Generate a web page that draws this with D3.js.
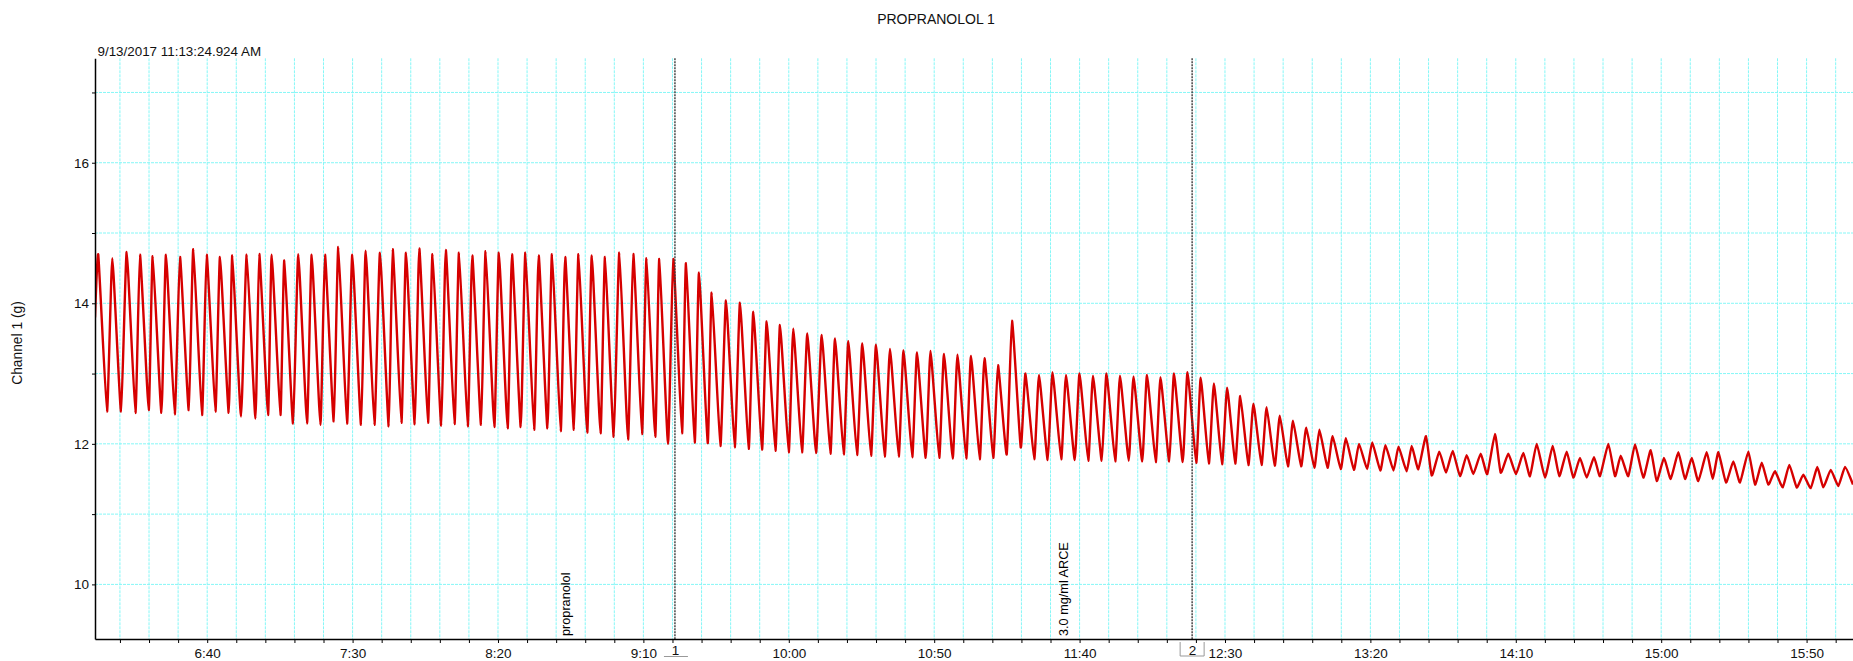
<!DOCTYPE html>
<html><head><meta charset="utf-8">
<script src="https://cdn.jsdelivr.net/npm/d3@7"></script>
<style>
html,body{margin:0;padding:0;background:#fff;}
svg{display:block;font-family:"Liberation Sans",Arial,sans-serif;}
</style></head><body>
<svg id="chart" width="1853" height="661"></svg>
<script>
// ---------- texts ----------
const title = "PROPRANOLOL 1";
const timestamp = "9/13/2017 11:13:24.924 AM";
const yAxisLabel = "Channel 1 (g)";

// ---------- axes ----------
const xDomain = [361.42, 965.96];          // seconds
const yDomain = [9.223, 17.486];           // g
const yTickValues = [10, 11, 12, 13, 14, 15, 16, 17];
const yTickLabels = ["10", "", "12", "", "14", "", "16", ""];
const xLabelTimes = [400, 450, 500, 550, 600, 650, 700, 750, 800, 850, 900, 950];
const xTickLabels = ["6:40", "7:30", "8:20", "9:10", "10:00", "10:50", "11:40", "12:30", "13:20", "14:10", "15:00", "15:50"];

// ---------- events ----------
const markerTimes = [560.85, 738.7];
const markerLabels = ["1", "2"];
const commentTimes = [523.5, 694.5];
const commentTexts = ["propranolol", "3.0 mg/ml ARCE"];

// ---------- trace: peaks and troughs ----------
const peakTimes = [
  362.55, 367.37, 372.32, 376.89, 381.26, 385.83, 390.65, 395.22, 399.83, 404.40, 408.63, 413.59, 417.92, 422.18, 426.52, 431.33, 435.94, 440.51, 445.09, 449.90, 454.51, 459.42, 463.79,
  468.37, 472.94, 477.48, 482.05, 486.59, 491.16, 495.74, 500.31, 504.82, 509.42, 514.00, 518.57, 523.11, 527.68, 532.26,
  536.80, 541.72, 546.53, 551.07, 555.47, 560.29, 564.65, 569.12, 573.49, 578.41, 583.22, 587.80, 592.40, 596.98, 601.55, 606.37, 611.32, 615.89, 620.47, 625.28, 629.99, 634.80,
  639.45, 644.09, 648.73, 653.37, 658.01, 662.66, 667.30, 671.94, 676.76, 681.40, 686.04, 690.68, 695.33, 699.97, 704.61, 709.25, 713.90, 718.54, 723.18, 727.82, 732.47, 737.11,
  741.65, 746.19, 750.73, 755.25, 759.77, 764.31, 768.85, 773.39, 777.93, 782.47, 787.01, 791.54, 796.08, 800.62, 805.16, 809.67,
  814.21, 819.13, 823.70, 828.31, 833.12, 837.94, 842.85, 847.43, 852.59, 857.19, 862.70, 867.51, 872.08, 876.90, 881.82, 886.08, 891.00, 896.40, 900.97, 905.89, 910.50, 915.66, 919.65, 924.81, 929.97, 934.58, 939.14, 944.06, 948.88, 953.69, 958.30, 963.22
];
const peakValues = [
  14.69, 14.64, 14.73, 14.69, 14.67, 14.69, 14.66, 14.77, 14.69, 14.66, 14.68, 14.69, 14.70, 14.69, 14.61, 14.70, 14.69, 14.69, 14.80, 14.69, 14.75, 14.72, 14.77,
  14.72, 14.78, 14.70, 14.76, 14.72, 14.68, 14.74, 14.72, 14.70, 14.72, 14.68, 14.70, 14.66, 14.70, 14.68,
  14.66, 14.72, 14.70, 14.64, 14.63, 14.63, 14.57, 14.44, 14.15, 14.04, 14.01, 13.88, 13.74, 13.69, 13.64, 13.57, 13.55, 13.50, 13.46, 13.43, 13.41, 13.35,
  13.33, 13.30, 13.32, 13.28, 13.27, 13.25, 13.22, 13.12, 13.75, 13.00, 12.98, 13.02, 12.98, 13.00, 12.97, 13.00, 12.97, 12.96, 12.98, 12.95, 13.00, 13.02,
  12.94, 12.86, 12.80, 12.68, 12.57, 12.52, 12.40, 12.33, 12.23, 12.20, 12.11, 12.08, 12.00, 12.02, 11.98, 11.96,
  11.97, 12.11, 11.89, 11.90, 11.84, 11.86, 12.14, 11.86, 11.87, 12.00, 11.97, 11.89, 11.80, 11.81, 12.00, 11.83, 11.99, 11.91, 11.80, 11.88, 11.80, 11.88, 11.88, 11.75, 11.89, 11.73, 11.61, 11.70, 11.56, 11.67, 11.63, 11.67
];
const troughTimes = [
  361.42,
  365.55, 370.37, 375.32, 379.89, 384.26, 388.83, 393.65, 398.22, 402.83, 407.40, 411.63, 416.59, 420.92, 425.18, 429.52, 434.33, 438.94, 443.51, 448.09, 452.90, 457.51, 462.42, 466.79,
  471.37, 475.94, 480.48, 485.05, 489.59, 494.16, 498.74, 503.31, 507.82, 512.42, 517.00, 521.57, 526.11, 530.68, 535.26,
  539.80, 544.72, 549.53, 554.07, 558.47, 563.29, 567.65, 572.12, 576.49, 581.41, 586.22, 590.80, 595.40, 599.98, 604.55, 609.37, 614.32, 618.89, 623.47, 628.28, 632.99, 637.80,
  642.45, 647.09, 651.73, 656.37, 661.01, 665.66, 670.30, 674.94, 679.76, 684.40, 689.04, 693.68, 698.33, 702.97, 707.61, 712.25, 716.90, 721.54, 726.18, 730.82, 735.47, 740.11,
  744.45, 748.99, 753.53, 758.05, 762.57, 767.11, 771.65, 776.19, 780.73, 785.27, 789.81, 794.34, 798.88, 803.42, 807.96, 812.47,
  816.48, 821.08, 826.00, 830.81, 835.39, 840.20, 844.81, 850.07, 854.88, 860.04, 864.96, 869.77, 874.38, 878.96, 884.12, 888.69, 893.85, 898.46, 903.27, 908.19, 912.76, 917.72, 922.29, 927.11, 932.27, 936.84, 941.79, 946.61, 951.42, 955.75, 960.91, 965.96
];
const troughValues = [
  13.80,
  12.46, 12.46, 12.44, 12.48, 12.44, 12.42, 12.48, 12.41, 12.46, 12.44, 12.39, 12.36, 12.41, 12.41, 12.29, 12.29, 12.27, 12.32, 12.29, 12.27, 12.27, 12.25, 12.30,
  12.28, 12.30, 12.26, 12.28, 12.25, 12.27, 12.24, 12.22, 12.24, 12.20, 12.22, 12.18, 12.20, 12.16, 12.15,
  12.10, 12.06, 12.14, 12.10, 12.00, 12.15, 12.02, 12.01, 11.97, 11.95, 11.93, 11.92, 11.90, 11.88, 11.88, 11.87, 11.86, 11.85, 11.84, 11.83, 11.82, 11.82,
  11.81, 11.80, 11.80, 11.79, 11.79, 11.78, 11.80, 11.85, 11.95, 11.78, 11.77, 11.78, 11.77, 11.76, 11.76, 11.75, 11.76, 11.75, 11.74, 11.75, 11.74, 11.73,
  11.72, 11.71, 11.72, 11.70, 11.70, 11.69, 11.68, 11.68, 11.66, 11.66, 11.64, 11.63, 11.64, 11.62, 11.62, 11.61,
  11.64, 11.55, 11.59, 11.54, 11.57, 11.57, 11.59, 11.57, 11.54, 11.52, 11.54, 11.52, 11.52, 11.54, 11.54, 11.54, 11.52, 11.47, 11.50, 11.50, 11.47, 11.50, 11.45, 11.45, 11.42, 11.42, 11.38, 11.38, 11.37, 11.38, 11.40, 11.42
];

// ---------- layout ----------
const plot = {left: 95, top: 58.3, right: 1853, bottom: 639};
const svg = d3.select("#chart");
const FONT = "Liberation Sans, Arial, sans-serif";

const x = d3.scaleLinear().domain(xDomain).range([plot.left, plot.right]);
const y = d3.scaleLinear().domain(yDomain).range([plot.bottom, plot.top]);

const gridColor = "#86f7f7";
const minorTimes = d3.range(370, 961, 10);

// grid
const grid = svg.append("g");
grid.selectAll("line.v").data(minorTimes).join("line")
  .attr("x1", d => x(d)).attr("x2", d => x(d))
  .attr("y1", plot.top).attr("y2", plot.bottom)
  .attr("stroke", gridColor).attr("stroke-width", 1).attr("stroke-dasharray", "3,1");
grid.selectAll("line.h").data(yTickValues).join("line")
  .attr("x1", plot.left).attr("x2", plot.right)
  .attr("y1", d => y(d)).attr("y2", d => y(d))
  .attr("stroke", gridColor).attr("stroke-width", 1).attr("stroke-dasharray", "3,1");

// clip
svg.append("clipPath").attr("id", "clip").append("rect")
  .attr("x", plot.left).attr("y", plot.top)
  .attr("width", plot.right - plot.left).attr("height", plot.bottom - plot.top);

// trace
const pts = peakTimes.map((t, i) => [t, peakValues[i]])
  .concat(troughTimes.map((t, i) => [t, troughValues[i]]))
  .sort((a, b) => a[0] - b[0]);
const line = d3.line().x(d => x(d[0])).y(d => y(d[1])).curve(d3.curveCardinal.tension(0.55));
svg.append("path").datum(pts)
  .attr("clip-path", "url(#clip)")
  .attr("d", line).attr("fill", "none")
  .attr("stroke", "#d60000").attr("stroke-width", 2.4).attr("stroke-linejoin", "round");

// markers
svg.selectAll("line.marker").data(markerTimes).join("line")
  .attr("x1", d => x(d)).attr("x2", d => x(d))
  .attr("y1", plot.top).attr("y2", plot.bottom)
  .attr("stroke", "#3a3a3a").attr("stroke-width", 1.4).attr("stroke-dasharray", "2,1");

// comments
svg.selectAll("text.comment").data(commentTimes).join("text")
  .attr("transform", d => `translate(${x(d) + 4},636) rotate(-90)`)
  .attr("font-size", 12.7).attr("fill", "#000").attr("font-family", FONT)
  .text((d, i) => commentTexts[i]);

// axes
const yAxis = d3.axisLeft(y).tickValues(yTickValues)
  .tickFormat((d, i) => yTickLabels[i]).tickSize(3).tickSizeOuter(0).tickPadding(3);
const gy = svg.append("g").attr("transform", `translate(${plot.left},0)`).call(yAxis);
gy.selectAll("text").attr("font-size", 13.5).attr("fill", "#111").attr("font-family", FONT);
gy.select(".domain").attr("stroke", "#000").attr("stroke-width", 1.5);

const xAxis = d3.axisBottom(x).tickValues(minorTimes)
  .tickFormat(d => { const k = xLabelTimes.indexOf(d); return k >= 0 ? xTickLabels[k] : ""; })
  .tickSize(4).tickSizeOuter(0).tickPadding(5);
const gx = svg.append("g").attr("transform", `translate(0,${plot.bottom})`).call(xAxis);
gx.selectAll("text").attr("font-size", 13.5).attr("fill", "#111").attr("font-family", FONT);
gx.select(".domain").attr("stroke", "#000").attr("stroke-width", 1.5);

// marker label boxes
markerTimes.forEach((t, i) => {
  const cx = x(t);
  const g = svg.append("g");
  if (i === 1) {
    g.append("path").attr("d", `M${cx - 12},${plot.bottom + 3}V${plot.bottom + 17}H${cx + 12}V${plot.bottom + 3}`)
      .attr("fill", "none").attr("stroke", "#999").attr("stroke-width", 1);
  } else {
    g.append("line").attr("x1", cx - 11).attr("x2", cx + 13)
      .attr("y1", plot.bottom + 17.5).attr("y2", plot.bottom + 17.5)
      .attr("stroke", "#999").attr("stroke-width", 1);
  }
  g.append("rect").attr("x", cx - 6).attr("y", plot.bottom + 4).attr("width", 12).attr("height", 12).attr("fill", "#fff");
  g.append("text").attr("x", cx + 0.5).attr("y", plot.bottom + 15.5)
    .attr("text-anchor", "middle").attr("font-size", 13.5).attr("fill", "#111").attr("font-family", FONT)
    .text(markerLabels[i]);
});

// titles
svg.append("text").attr("x", 936).attr("y", 24).attr("text-anchor", "middle")
  .attr("font-size", 14).attr("fill", "#111").attr("font-family", FONT).text(title);
svg.append("text").attr("x", 97.5).attr("y", 56).attr("font-size", 13.4).attr("fill", "#111").attr("font-family", FONT).text(timestamp);
svg.append("text").attr("transform", `translate(22,343) rotate(-90)`).attr("text-anchor", "middle")
  .attr("font-size", 13.8).attr("fill", "#111").attr("font-family", FONT).text(yAxisLabel);
</script>
</body></html>
